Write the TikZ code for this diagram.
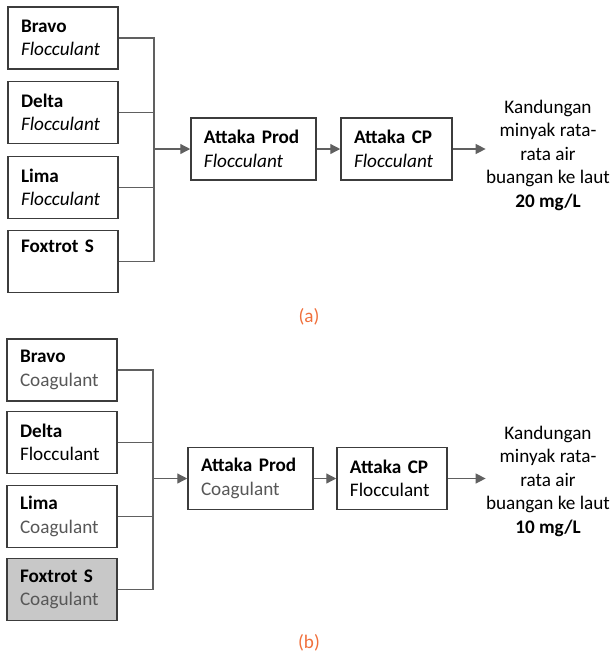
\documentclass[tikz,border=0pt]{standalone}
\usepackage{fontspec}
\setmainfont{Carlito}
\usetikzlibrary{arrows.meta}
\definecolor{rand}{HTML}{3C3C3C}
\definecolor{garis}{HTML}{606060}
\definecolor{abu}{HTML}{575757}
\definecolor{isi}{HTML}{C8C8C8}
\definecolor{oranye}{HTML}{F0703C}
\newcommand{\fnt}{\fontsize{9.6}{11.75}\selectfont}
\begin{document}
\begin{tikzpicture}[x=0.5pt,y=-0.5pt,
	box/.style={draw=rand, line width=0.75pt, minimum height=31pt, inner xsep=6.5pt, inner ysep=0pt, text width=42pt, align=left, font=\fnt},
	pipe/.style={draw=garis, line width=0.65pt},
	arr/.style={pipe, -{Triangle[length=5pt,width=5pt]}},
	hasil/.style={inner sep=0pt, align=center, font=\fnt},
	label/.style={text=oranye, font=\fnt}]
	\useasboundingbox (0,0) rectangle (614,655);
	% (a)
		\node (a1) at (63,38) [box] {\textbf{Bravo}\\\textit{Flocculant}};
		\node (a2) at (63,112.5) [box] {\textbf{Delta}\\\textit{Flocculant}};
		\node (a3) at (63,187.5) [box] {\textbf{Lima}\\\textit{Flocculant}};
		\node (a4) at (63,261.5) [box] {\textbf{Foxtrot S}\\\strut};
		\node (a5) at (253.5,149) [box, text width=49.5pt] {\textbf{Attaka Prod}\\\textit{Flocculant}};
		\node (a6) at (396.5,149) [box, text width=42.5pt] {\textbf{Attaka CP}\\\textit{Flocculant}};
		\node (a7) at (548,155) [hasil] {Kandungan\\minyak rata-\\rata air\\buangan ke laut\\\textbf{20 mg/L}};
		\node (la) at (309,317) [label] {(a)};
		\coordinate (ja) at (154,149);
		\draw[pipe] (a1.east) -| (ja);
		\draw[pipe] (a2.east) -| (ja);
		\draw[pipe] (a3.east) -| (ja);
		\draw[pipe] (a4.east) -| (ja);
		\draw[arr] (ja) -- (a5);
		\draw[arr] (a5) -- (a6);
		\draw[arr] (a6) -- (a6 -| a7.west);
	% (b)
		\node (b1) at (62,370) [box] {\textbf{Bravo}\\\textcolor{abu}{Coagulant}};
		\node (b2) at (62,442.5) [box] {\textbf{Delta}\\Flocculant};
		\node (b3) at (62,516.5) [box] {\textbf{Lima}\\\textcolor{abu}{Coagulant}};
		\node (b4) at (62,589.5) [box, fill=isi] {\textbf{Foxtrot S}\\\textcolor{abu}{Coagulant}};
		\node (b5) at (250.5,478.5) [box, text width=49.5pt] {\textbf{Attaka Prod}\\\textcolor{abu}{Coagulant}};
		\node (b6) at (392,478.5) [box] {\textbf{Attaka CP}\\Flocculant};
		\node (b7) at (548,481) [hasil] {Kandungan\\minyak rata-\\rata air\\buangan ke laut\\\textbf{10 mg/L}};
		\node (lb) at (309,643) [label] {(b)};
		\coordinate (jb) at (153,478.5);
		\draw[pipe] (b1.east) -| (jb);
		\draw[pipe] (b2.east) -| (jb);
		\draw[pipe] (b3.east) -| (jb);
		\draw[pipe] (b4.east) -| (jb);
		\draw[arr] (jb) -- (b5);
		\draw[arr] (b5) -- (b6);
		\draw[arr] (b6) -- (b6 -| b7.west);
\end{tikzpicture}
\end{document}
